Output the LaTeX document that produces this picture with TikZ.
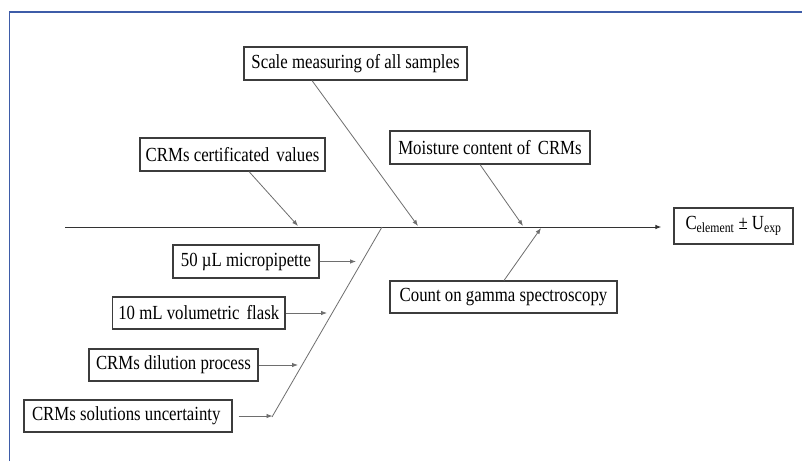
\documentclass[tikz,border=0pt]{standalone}
\usepackage{fontspec}
\setmainfont{Liberation Serif}
\usetikzlibrary{arrows.meta,calc}
\definecolor{framecol}{RGB}{62,92,168}
\definecolor{boxcol}{RGB}{60,60,60}
\definecolor{linecol}{RGB}{110,110,110}
\newcommand{\tx}[1]{\scalebox{0.84}[1]{#1}}
\begin{document}
\begin{tikzpicture}[x=1pt,y=-1pt,
  box/.style={draw=boxcol,line width=1.1pt,inner sep=0pt,minimum height=33pt,
    font=\fontsize{20}{22}\selectfont},
  arr/.style={draw=linecol,line width=0.8pt,-{Latex[length=6pt,width=4.5pt]}},
  spine/.style={draw=black!80,line width=1pt,-{Latex[length=6pt,width=4.5pt]}},
  thin/.style={draw=linecol,line width=0.8pt}]
\useasboundingbox (0,0) rectangle (802,461);
\fill[white] (0,0) rectangle (802,461);
\draw[framecol,line width=1.4pt] (9.5,461) -- (9.5,12) -- (802,12);

\node[box,minimum width=223pt] (scale) at (355.5,63.5) {\tx{Scale measuring of all samples}};
\node[box,minimum width=185pt] (cert) at (232.5,154.5) {\tx{CRMs certificated\, values}};
\node[box,minimum width=200pt] (moist) at (490,147.5) {\tx{Moisture content of\, CRMs}};
\node[box,minimum width=227pt,minimum height=32pt] (count) at (503.5,297) {\tx{Count on gamma spectroscopy}};
\node[box,minimum width=119pt,minimum height=36pt] (res) at (733.5,226) {\tx{C\textsubscript{element} ± U\textsubscript{exp}}};
\node[box,minimum width=146pt] (pip) at (246,261.5) {\tx{50 µL micropipette}};
\node[box,minimum width=172.5pt,minimum height=32pt] (flask) at (198.75,313) {\tx{10 mL volumetric\, flask}};
\node[box,minimum width=169pt,minimum height=32pt] (dil) at (173.5,365) {\tx{CRMs dilution process}};
\node[box,minimum width=208pt,minimum height=32pt] (sol) at (128,416) {\makebox[192pt][l]{\tx{CRMs solutions uncertainty}}};

% spine
\coordinate (s0) at (65,227);
\draw[spine,shorten >=12pt] (s0) -- (s0 -| res.west);

% upper causes
\coordinate (t1) at (298,226);
\coordinate (t2) at (418,226);
\coordinate (t3) at (523,226);
\coordinate (t4) at (541,228);
\draw[arr] ([xshift=16.5pt]cert.south) -- (t1);
\draw[arr] ([xshift=-43.5pt]scale.south) -- (t2);
\draw[arr] ([xshift=-10pt]moist.south) -- (t3);
\draw[arr] ([xshift=0.5pt]count.north) -- (t4);

% lower branch
\coordinate (b0) at (382,227);
\coordinate (b1) at (272,417);
\draw[thin] (b0) -- (b1);
\coordinate (a1) at (356,261.5);
\coordinate (a2) at (327,313);
\coordinate (a3) at (298,365);
\coordinate (a4) at (272.5,416);
\draw[arr] (pip.east) -- (a1);
\draw[arr] (flask.east) -- (a2);
\draw[arr] (dil.east) -- (a3);
\draw[arr,shorten <=6pt] (sol.east) -- (a4);
\end{tikzpicture}
\end{document}
